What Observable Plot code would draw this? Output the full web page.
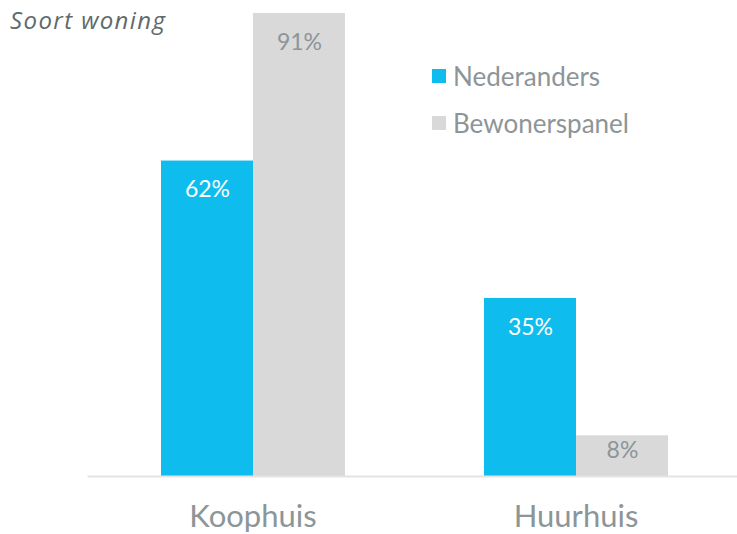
<!DOCTYPE html>
<html>
<head>
<meta charset="utf-8">
<script src="https://cdn.jsdelivr.net/npm/d3@7"></script>
<script src="https://cdn.jsdelivr.net/npm/@observablehq/plot@0.6"></script>
<style>
  html, body { margin: 0; padding: 0; background: #fff; }
  #wrap { position: relative; width: 737px; height: 534px; font-family: Lato, "Open Sans", sans-serif; }
  #title { position: absolute; left: 10px; top: 3px; font-family: "Open Sans", sans-serif; font-size: 24px; letter-spacing: 1.4px; font-style: italic; color: #5f6a6c; }
  #legend { position: absolute; left: 432px; top: 52px; font-size: 26px; color: #8c9598; }
  .item { display: flex; align-items: center; height: 47px; }
  .sw { width: 14px; height: 14px; margin-right: 7px; }
</style>
</head>
<body>
<div id="wrap">
  <div id="chart"></div>
  <div id="title">Soort woning</div>
  <div id="legend"></div>
</div>
<script>
const categories = ["Koophuis", "Huurhuis"];
const series = ["Nederanders", "Bewonerspanel"];
const nederlanders = [62, 35];
const bewonerspanel = [91, 8];
const colors = ["#0ebdee", "#d9d9d9"];
const labelColors = ["#ffffff", "#8c9598"];

const data = [];
categories.forEach((c, i) => {
  data.push({category: c, series: series[0], value: nederlanders[i]});
  data.push({category: c, series: series[1], value: bewonerspanel[i]});
});

const chart = Plot.plot({
  width: 737,
  height: 534,
  marginLeft: 90,
  marginRight: 0,
  marginTop: 13,
  marginBottom: 58,
  style: {fontFamily: "Lato, 'Open Sans', sans-serif", background: "#fff"},
  fx: {domain: categories, paddingInner: 0.428, paddingOuter: 0.215, axis: null},
  x: {domain: series, padding: 0, axis: null},
  y: {domain: [0, d3.max(data, d => d.value)], axis: null},
  color: {domain: series, range: colors},
  marks: [
    Plot.barY(data, {fx: "category", x: "series", y: "value", fill: "series"}),
    Plot.frame({anchor: "bottom", facet: "super", stroke: "#e4e4e4", strokeWidth: 2, insetLeft: -72, insetRight: -70}),
    Plot.text(data.filter(d => d.value >= 15), {
      fx: "category", x: "series", y: "value", text: d => d.value + "%",
      dy: 29, fontSize: 23,
      fill: d => labelColors[series.indexOf(d.series)]
    }),
    Plot.text(data.filter(d => d.value < 15), {
      fx: "category", x: "series", y: "value", text: d => d.value + "%",
      dy: 15, fontSize: 23,
      fill: d => labelColors[series.indexOf(d.series)]
    }),
    Plot.text(categories, {
      fx: d => d, text: d => d, frameAnchor: "bottom", lineAnchor: "middle", dy: 41,
      fontSize: 31, fill: "#8c9598"
    })
  ]
});
document.getElementById("chart").appendChild(chart);

const legend = document.getElementById("legend");
series.forEach((s, i) => {
  const item = document.createElement("div");
  item.className = "item";
  const sw = document.createElement("span");
  sw.className = "sw";
  sw.style.background = colors[i];
  const t = document.createElement("span");
  t.textContent = s;
  item.appendChild(sw);
  item.appendChild(t);
  legend.appendChild(item);
});
</script>
</body>
</html>
